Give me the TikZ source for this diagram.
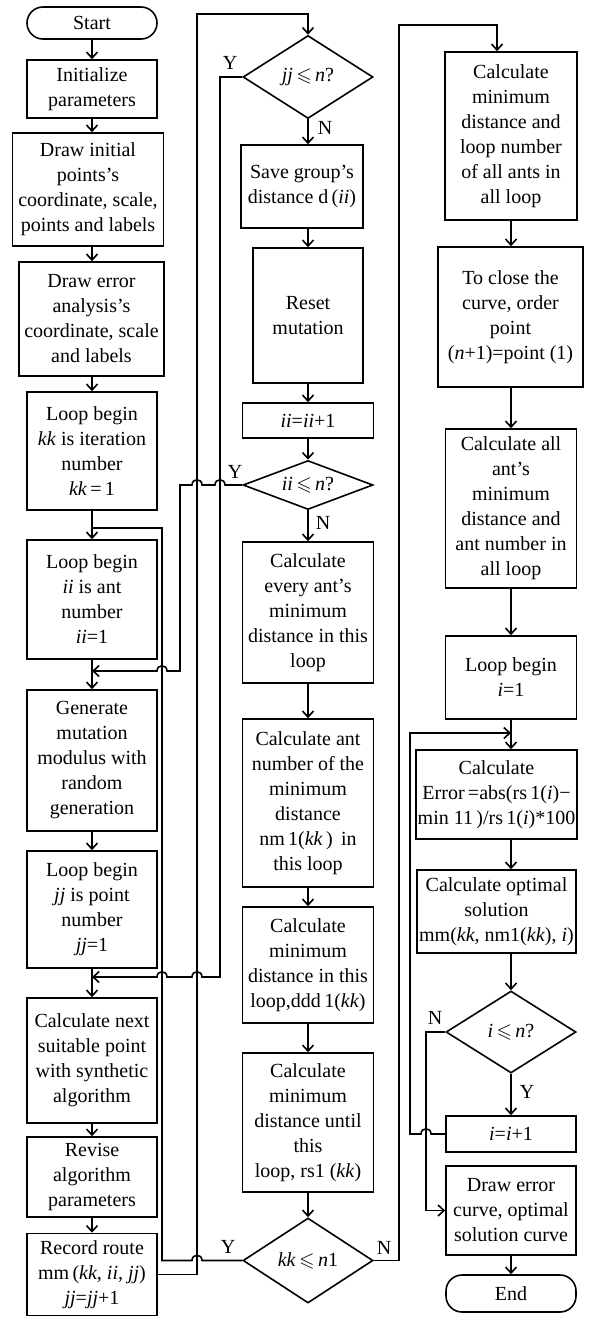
\documentclass[tikz,border=0pt]{standalone}
\usepackage{amssymb}
\usepackage{fontspec}
\setmainfont{Liberation Serif}
\usetikzlibrary{arrows.meta,shapes.geometric}

% line hop over a vertical line, drawn leftwards at (x,y)
\newcommand{\hopl}[2]{-- (#1+5,#2) .. controls (#1+5,#2-7) and (#1-5,#2-7) .. (#1-5,#2)}

\begin{document}
\begin{tikzpicture}[
			x=0.5pt,y=-0.5pt,
			font=\fontsize{10}{12.5}\selectfont,
			wh/.style 2 args={minimum width=#1*0.5pt,minimum height=#2*0.5pt},
			box/.style={draw,line width=0.8pt,align=center,inner sep=1pt},
			term/.style={box,rounded corners=8pt},
			decision/.style={diamond,draw,line width=0.8pt,inner sep=0pt,aspect=1.6},
			arrow/.style={-{Straight Barb[length=3pt,width=5.5pt]},line width=0.8pt},
			line/.style={line width=0.8pt},
			lbl/.style={inner sep=1pt}
			]
			\useasboundingbox (0,0) rectangle (606,1317);
			% left column
			\node[term,wh={130}{32}] (start) at (92,23) {Start};
			\node[box,wh={130}{58}] (init) at (92,89) {Initialize\\parameters};
			\node[box,wh={151}{113}] (drawinit) at (88,189.5) {Draw initial\\points’s\\coordinate, scale,\\points and labels};
			\node[box,wh={145}{114}] (drawerr) at (91.5,319) {Draw error\\analysis’s\\coordinate, scale\\and labels};
			\node[box,wh={130}{118}] (loopkk) at (92,451) {Loop begin\\\textit{kk} is iteration\\number\\\textit{kk}\,=\,1};
			\node[box,wh={130}{119}] (loopii) at (92,599.5) {Loop begin\\\textit{ii} is ant\\number\\\textit{ii}=1};
			\node[box,wh={130}{141}] (gen) at (92,760.5) {Generate\\mutation\\modulus with\\random\\generation};
			\node[box,wh={130}{117}] (loopjj) at (92,909.5) {Loop begin\\\textit{jj} is point\\number\\\textit{jj}=1};
			\node[box,wh={130}{125}] (calcnext) at (92,1060.5) {Calculate next\\suitable point\\with synthetic\\algorithm};
			\node[box,wh={130}{80}] (revise) at (92,1177) {Revise\\algorithm\\parameters};
			\node[box,wh={130}{82}] (record) at (92,1274.5) {Record route\\mm\,(\textit{kk, ii, jj})\\\textit{jj}=\textit{jj}+1};
			% middle column
			\node[decision,wh={130}{83}] (jjq) at (308,77) {\textit{jj}\,$\leqslant$\,\textit{n}?};
			\node[box,wh={122}{83}] (save) at (302,186.5) {Save group’s\\distance d\,(\textit{ii})};
			\node[box,wh={110}{135}] (reset) at (308,315.5) {Reset\\mutation};
			\node[box,wh={131}{35}] (iiinc) at (308,420.5) {\textit{ii}=\textit{ii}+1};
			\node[decision,wh={130}{49}] (iiq) at (308,485) {\textit{ii}\,$\leqslant$\,\textit{n}?};
			\node[box,wh={131}{141}] (every) at (308,612.5) {Calculate\\every ant’s\\minimum\\distance in this\\loop};
			\node[box,wh={131}{168}] (antnum) at (308,803) {Calculate ant\\number of the\\minimum\\distance\\nm\,1(\textit{kk}\,)\, in\\this loop};
			\node[box,wh={131}{116}] (mindist) at (308,965) {Calculate\\minimum\\distance in this\\loop,ddd\,1(\textit{kk})};
			\node[box,wh={131}{139}] (until) at (308,1122.5) {Calculate\\minimum\\distance until\\this\\loop, rs1 (\textit{kk})};
			\node[decision,wh={130}{85}] (kkq) at (308,1260.5) {\textit{kk}\,$\leqslant$\,\textit{n}1};
			% right column
			\node[box,wh={132}{168}] (minall) at (511,136) {Calculate\\minimum\\distance and\\loop number\\of all ants in\\all loop};
			\node[box,wh={145}{140}] (close) at (510.5,317) {To close the\\curve, order\\point\\(\textit{n}+1)=point (1)};
			\node[box,wh={131}{159}] (allant) at (511,508.5) {Calculate all\\ant’s\\minimum\\distance and\\ant number in\\all loop};
			\node[box,wh={131}{83}] (loopi) at (511,677.5) {Loop begin\\\textit{i}=1};
			\node[box,wh={159}{89}] (err) at (496.5,794.5) {Calculate\\Error\,=abs(rs\,1(\textit{i})−\\min 11\,)/rs\,1(\textit{i})*100};
			\node[box,wh={159}{83}] (opt) at (496.5,911.5) {Calculate optimal\\solution\\mm(\textit{kk}, nm1(\textit{kk}), \textit{i})};
			\node[decision,wh={130}{82}] (iq) at (511,1032) {\textit{i}\,$\leqslant$\,\textit{n}?};
			\node[box,wh={130}{36}] (iinc) at (511,1134) {\textit{i}=\textit{i}+1};
			\node[box,wh={130}{89}] (drawcurve) at (511,1210.5) {Draw error\\curve, optimal\\solution curve};
			\node[term,wh={130}{37}] (endn) at (511,1293.5) {End};
			% junctions
			\coordinate (kkin) at (92,528);
			\coordinate (iiin) at (92,671);
			\coordinate (jjin) at (92,977);
			\coordinate (iin) at (511,733);
			% labels
			\node[lbl] (ylbl1) at (230,63) {Y};
			\node[lbl] (nlbl1) at (325,128) {N};
			\node[lbl] (ylbl2) at (235,472) {Y};
			\node[lbl] (nlbl2) at (323,523) {N};
			\node[lbl] (ylbl3) at (228,1247) {Y};
			\node[lbl] (nlbl3) at (384,1248) {N};
			\node[lbl] (nlbl4) at (435,1018) {N};
			\node[lbl] (ylbl4) at (527,1092) {Y};
			% main flow
			\draw[arrow] (start)--(init);
			\draw[arrow] (init)--(drawinit.north -| init);
			\draw[arrow] (drawinit.south -| init)--(drawerr.north -| init);
			\draw[arrow] (drawerr.south -| init)--(loopkk);
			\draw[arrow] (loopkk)--(loopii);
			\draw[arrow] (loopii)--(gen);
			\draw[arrow] (gen)--(loopjj);
			\draw[arrow] (loopjj)--(calcnext);
			\draw[arrow] (calcnext)--(revise);
			\draw[arrow] (revise)--(record);
			\draw[arrow] (jjq)--(save.north -| jjq);
			\draw[arrow] (save.south -| jjq)--(reset);
			\draw[arrow] (reset)--(iiinc);
			\draw[arrow] (iiinc)--(iiq);
			\draw[arrow] (iiq)--(every);
			\draw[arrow] (every)--(antnum);
			\draw[arrow] (antnum)--(mindist);
			\draw[arrow] (mindist)--(until);
			\draw[arrow] (until)--(kkq);
			\draw[arrow] (minall)--(close.north -| minall);
			\draw[arrow] (close.south -| minall)--(allant);
			\draw[arrow] (allant)--(loopi);
			\draw[arrow] (loopi)--(err.north -| loopi);
			\draw[arrow] (err.south -| loopi)--(opt.north -| loopi);
			\draw[arrow] (opt.south -| loopi)--(iq);
			\draw[arrow] (iq)--(iinc);
			\draw[arrow] (drawcurve)--(endn);
			% loops
			\draw[arrow] (record.east) -| (197,14) -| (jjq.north);
			\draw[arrow] (jjq.west) -| (220,977) \hopl{197}{977} \hopl{162}{977} -- (jjin);
			\draw[arrow] (iiq.west) \hopl{220}{485} \hopl{197}{485} -| (180,671) \hopl{162}{671} -- (iiin);
			\draw[line] (kkq.west) \hopl{197}{1260.5} -| (162,528) -- (kkin);
			\draw[arrow] (kkq.east) -| (399,25) -| ([xshift=-7pt]minall.north);
			\draw[arrow] (iinc.west) \hopl{426}{1134} -| (410,733) -- (iin);
			\draw[arrow] (iq.west) -| (426,1210.5) -- (drawcurve.west);
		\end{tikzpicture}
\end{document}
